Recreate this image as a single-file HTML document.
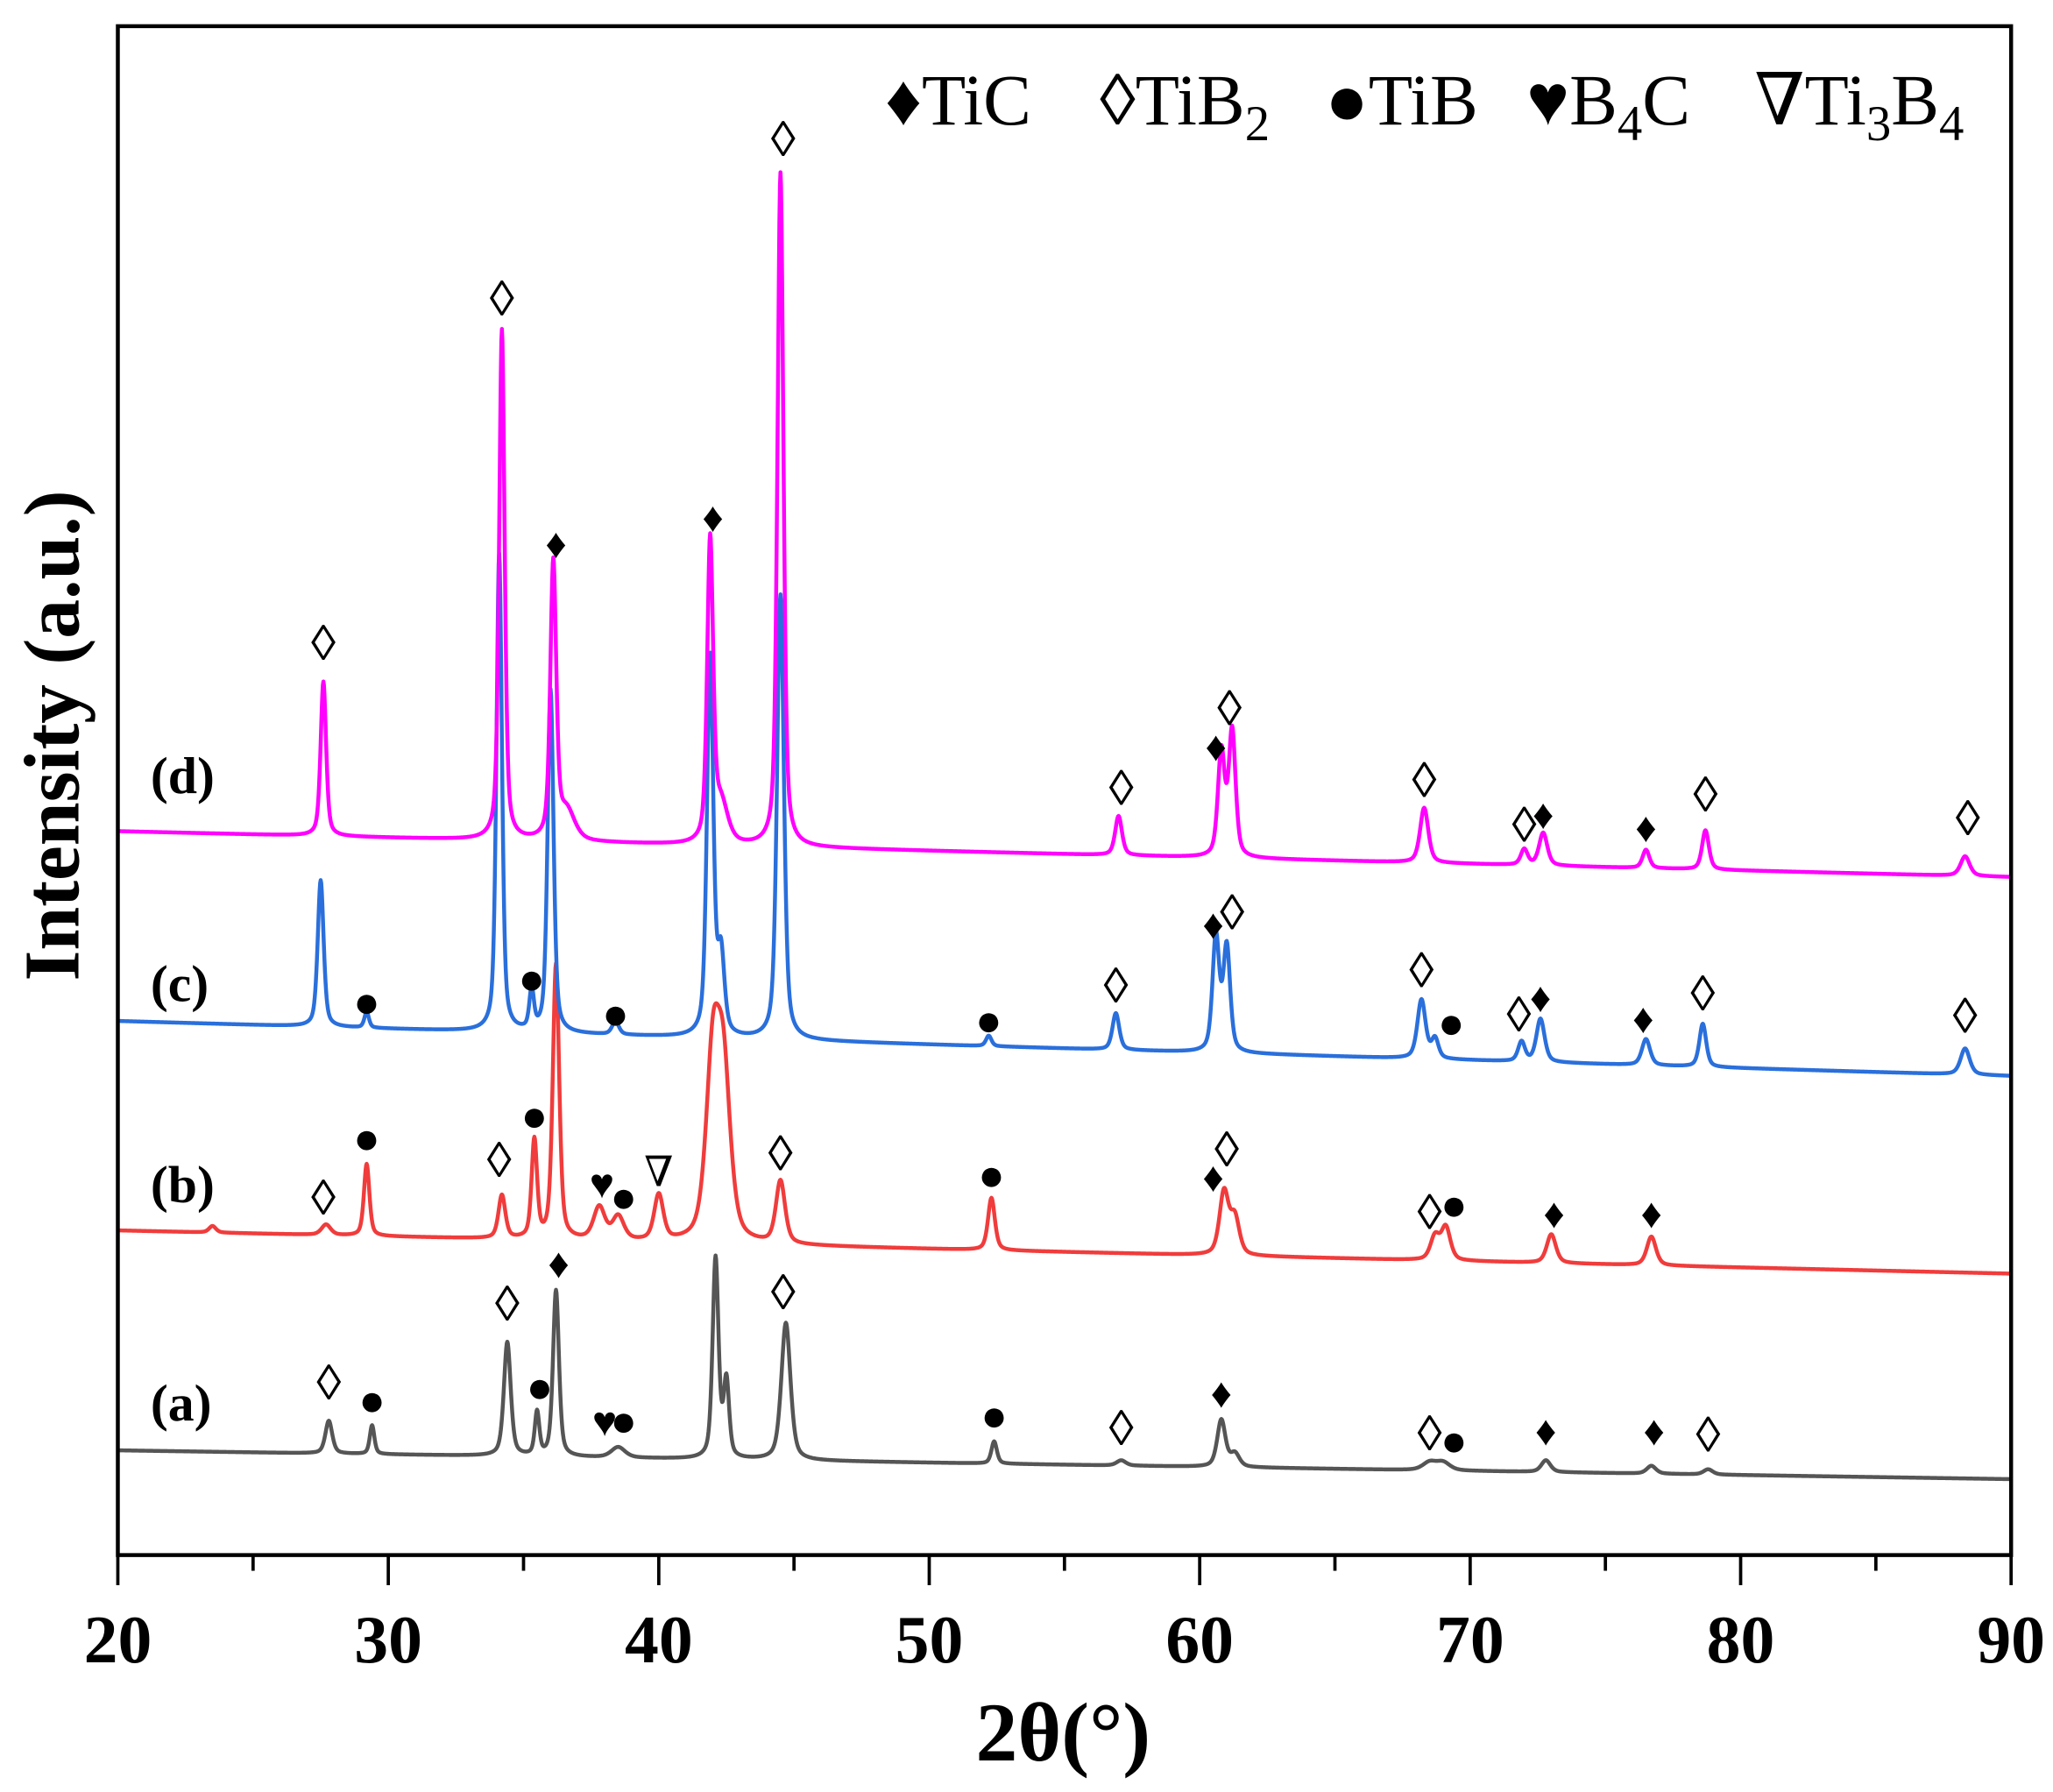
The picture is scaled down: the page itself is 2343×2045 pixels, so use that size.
<!DOCTYPE html>
<html><head><meta charset="utf-8"><style>
html,body{margin:0;padding:0;background:#fff;}
svg{display:block;}
text{font-family:"Liberation Serif","DejaVu Serif",serif;}
</style></head>
<body>
<svg id="chart" width="2343" height="2045" viewBox="0 0 1568 1369" preserveAspectRatio="none" xmlns="http://www.w3.org/2000/svg">
<g id="series-layer"></g>
<g id="marker-layer"></g>
<rect x="90" y="20" width="1446" height="1168" fill="none" stroke="#000" stroke-width="3"/>
<g id="tick-layer"></g>
<text x="812" y="1345" font-size="64" font-weight="bold" text-anchor="middle">2θ(°)</text>
<text transform="translate(60,562) rotate(-90)" font-size="60" font-weight="bold" text-anchor="middle">Intensity (a.u.)</text>
<g font-size="55">
<text x="676" y="95">♦TiC</text>
<text x="840" y="95">◊TiB<tspan font-size="38" dy="12">2</tspan></text>
<text x="1012" y="95">●TiB</text>
<text x="1166" y="95">♥B<tspan font-size="38" dy="12">4</tspan><tspan dy="-12">C</tspan></text>
<text x="1340" y="95">∇Ti<tspan font-size="38" dy="12">3</tspan><tspan dy="-12">B</tspan><tspan font-size="38" dy="12">4</tspan></text>
</g>
<text x="115" y="606" font-size="40" font-weight="bold">(d)</text>
<text x="115" y="765" font-size="40" font-weight="bold">(c)</text>
<text x="115" y="918" font-size="40" font-weight="bold">(b)</text>
<text x="115" y="1085" font-size="40" font-weight="bold">(a)</text>
</svg>
<script>
// x ticks
const xTicks = [20,30,40,50,60,70,80,90];
const xMinorTicks = [25,35,45,55,65,75,85];
// intensity units: 1 unit = height above the bottom axis
const baseA = [80, 58];
const baseB = [248, 215];
const baseC = [408, 366];
const baseD = [553, 518];
// peaks: positions (deg), heights, half widths (deg)
const posA = [27.8,29.4,34.4,35.5,36.2,38.5,42.1,42.5,44.7,52.4,57.1,60.8,61.3,68.5,69.0,72.8,76.7,78.8];
const hA   = [25,22,87,33,127,8,153,58,105,17,4,36,10,6,6,9,6,4];
const wA   = [0.15,0.1,0.15,0.1,0.13,0.3,0.13,0.12,0.2,0.12,0.2,0.18,0.2,0.3,0.3,0.2,0.2,0.2];
const posB = [23.5,27.7,29.2,34.2,35.4,36.2,37.8,38.5,40.0,42.0,42.4,44.5,52.3,60.9,61.3,68.7,69.1,73.0,76.7];
const hB   = [5,8,55,33,75,210,25,18,35,135,120,48,40,48,28,18,25,22,22];
const wB   = [0.15,0.2,0.12,0.15,0.12,0.14,0.25,0.25,0.2,0.3,0.3,0.2,0.15,0.2,0.2,0.2,0.2,0.2,0.2];
const posC = [27.5,29.2,34.1,35.3,36.0,38.4,41.9,42.3,44.5,52.2,56.9,60.6,61.0,68.2,68.7,71.9,72.6,76.5,78.6,88.3];
const hC   = [112,12,365,30,262,10,290,60,340,8,28,88,80,45,15,15,33,20,33,20];
const wC   = [0.13,0.1,0.12,0.1,0.13,0.15,0.14,0.15,0.15,0.12,0.15,0.15,0.15,0.18,0.15,0.15,0.18,0.18,0.15,0.2];
const posD = [27.6,34.2,36.1,36.6,41.9,42.3,44.5,57.0,60.8,61.2,68.3,72.0,72.7,76.5,78.7,88.3];
const hD   = [118,390,210,22,228,30,515,30,80,96,42,12,25,14,30,15];
const wD   = [0.12,0.12,0.13,0.35,0.13,0.3,0.13,0.15,0.15,0.15,0.18,0.15,0.18,0.15,0.15,0.2];
// phase markers: symbol, position (deg), level (intensity units)
const mkSym = ["◊","◊","♦","♦","◊","◊","♦","◊","◊","◊","♦","♦","◊","◊",
 "●","●","●","●","◊","♦","◊","◊","●","◊","♦","♦","◊","◊",
 "◊","●","◊","●","♥","●","∇","◊","●","♦","◊","◊","●","♦","♦",
 "◊","●","◊","●","♦","♥","●","◊","●","◊","♦","◊","●","♦","♦","◊"];
const mkPos = [27.6,34.2,36.2,42.0,44.6,57.1,60.6,61.1,68.3,72.0,72.7,76.5,78.7,88.4,
 29.2,35.3,38.4,52.2,56.9,60.5,61.2,68.2,69.3,71.8,72.6,76.4,78.6,88.3,
 27.6,29.2,34.1,35.4,37.9,38.7,40.0,44.5,52.3,60.5,61.0,68.5,69.4,73.1,76.7,
 27.8,29.4,34.4,35.6,36.3,38.0,38.7,44.6,52.4,57.1,60.8,68.5,69.4,72.8,76.8,78.8];
const mkLevel = [696,959,773,793,1081,585,618,646,591,557,566,556,580,562,
 422,440,413,408,434,482,490,446,406,412,426,410,428,411,
 272,318,301,335,284,273,293,306,290,289,309,261,267,261,261,
 131,118,191,128,223,102,102,200,106,96,124,92,87,95,95,91];

const NS = "http://www.w3.org/2000/svg";
const L=90,R=1536,T=20,B=1188;
function xS(d){return L+(d-20)*(R-L)/70;}
function yS(v){return B-v;}
function curve(base,pos,h,w,d){
  let v=base[0]+(base[1]-base[0])*(d-20)/70;
  for(let i=0;i<pos.length;i++){const t=(d-pos[i])/w[i];v+=h[i]*(0.5*Math.exp(-0.693*t*t)+0.5/(1+t*t));}
  return v;
}
const sl=document.getElementById('series-layer');
const defs=[["series-a",baseA,posA,hA,wA,"#555555"],["series-b",baseB,posB,hB,wB,"#f03c3c"],["series-c",baseC,posC,hC,wC,"#2a6fdb"],["series-d",baseD,posD,hD,wD,"#ff00ff"]];
defs.forEach(s=>{
  let dstr="";
  for(let d=20;d<=90.0001;d+=0.02){dstr+=(dstr?"L":"M")+xS(d).toFixed(2)+","+yS(curve(s[1],s[2],s[3],s[4],d)).toFixed(2);}
  const p=document.createElementNS(NS,"path");
  
  
  p.setAttribute("d",dstr);p.setAttribute("fill","none");p.setAttribute("stroke",s[5]);p.setAttribute("stroke-width","3");p.setAttribute("stroke-linejoin","round");
  sl.appendChild(p);
});
const ml=document.getElementById('marker-layer');
for(let i=0;i<mkSym.length;i++){
  const t=document.createElementNS(NS,"text");
  
  
  t.setAttribute("x",xS(mkPos[i]));t.setAttribute("y",yS(mkLevel[i])+11);
  t.setAttribute("text-anchor","middle");
  const s=mkSym[i];
  t.setAttribute("font-size", s==="◊"?"38":(s==="●"?"34":"32"));
  if(s==="◊") t.setAttribute("y",yS(mkLevel[i])+12);
  t.textContent=s;ml.appendChild(t);
}
const tl=document.getElementById('tick-layer');
xTicks.forEach(v=>{
  const l=document.createElementNS(NS,"line");
  
  
  l.setAttribute("x1",xS(v));l.setAttribute("x2",xS(v));l.setAttribute("y1",B);l.setAttribute("y2",B+23);l.setAttribute("stroke","#000");l.setAttribute("stroke-width","2.5");tl.appendChild(l);
  const t=document.createElementNS(NS,"text");
  
  
  t.setAttribute("x",xS(v));t.setAttribute("y",1270);t.setAttribute("text-anchor","middle");t.setAttribute("font-size","52");t.setAttribute("font-weight","bold");
  t.textContent=v;tl.appendChild(t);
});
xMinorTicks.forEach(v=>{
  const l=document.createElementNS(NS,"line");
  
  
  l.setAttribute("x1",xS(v));l.setAttribute("x2",xS(v));l.setAttribute("y1",B);l.setAttribute("y2",B+12);l.setAttribute("stroke","#000");l.setAttribute("stroke-width","2.5");tl.appendChild(l);
});
</script>
</body></html>
